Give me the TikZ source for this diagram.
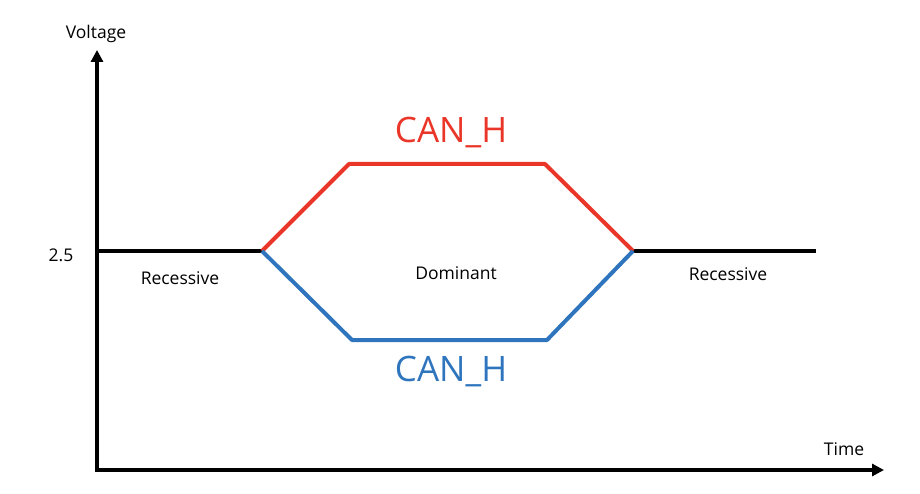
\documentclass[tikz,border=0pt]{standalone}
\usepackage{fontspec}
\setmainfont{Open Sans}
\usetikzlibrary{arrows.meta}
\definecolor{canred}{RGB}{234,54,40}
\definecolor{canblue}{RGB}{46,117,190}
\begin{document}
\begin{tikzpicture}[x=1pt,y=-1pt,
  axis/.style={line width=4pt,-{Triangle[length=12pt,width=12pt]}},
  sig/.style={line width=4pt},
  lbl/.style={font=\fontsize{17.5}{20}\selectfont,inner sep=0pt},
  big/.style={font=\fontsize{35}{40}\selectfont,inner sep=0pt}]
\useasboundingbox (0,0) rectangle (920,494);
\coordinate (o) at (97,470);
\coordinate (ytop) at (97,50);
\coordinate (xend) at (884,470);
\draw[axis] (97,472) -- (ytop);
\draw[axis] (95,470) -- (xend);
\coordinate (a0) at (97,251);
\coordinate (a1) at (262,251);
\coordinate (h1) at (349,164);
\coordinate (h2) at (545,164);
\coordinate (a2) at (633,251);
\coordinate (l1) at (352,340);
\coordinate (l2) at (547,340);
\coordinate (a3) at (816,251);
\draw[sig,black] (a0) -- (a1);
\draw[sig,black] (a2) -- (a3);
\draw[sig,canred,line join=round] (a1) -- (h1) -- (h2) -- (a2);
\draw[sig,canblue,line join=round] (a1) -- (l1) -- (l2) -- (a2);
\node[lbl] (volt) at (96,34) {Voltage};
\node[lbl] (v25) at (61,255) {2.5};
\node[lbl] (rec1) at (180,278) {Recessive};
\node[lbl] (dom) at (456,273) {Dominant};
\node[lbl] (rec2) at (728,274) {Recessive};
\node[lbl] (time) at (844,449) {Time};
\node[big,text=canred] (canh) at (451,133) {CAN\_H};
\node[big,text=canblue] (canl) at (451,372) {CAN\_H};
\end{tikzpicture}
\end{document}
